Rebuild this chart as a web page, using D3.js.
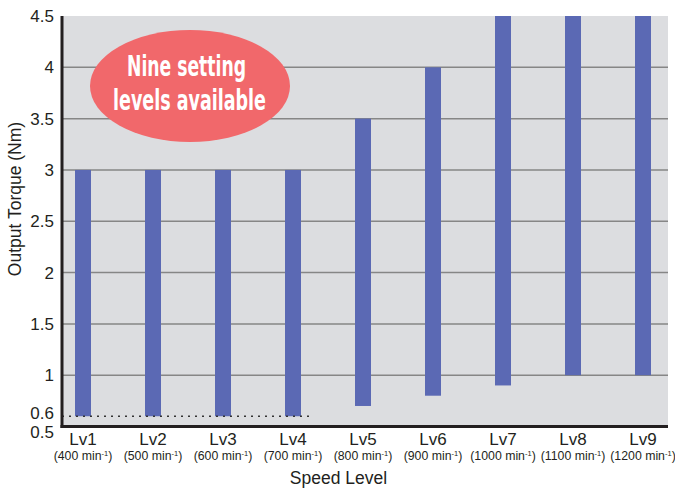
<!DOCTYPE html>
<html>
<head>
<meta charset="utf-8">
<script src="https://cdn.jsdelivr.net/npm/d3@7"></script>
<style>
  body { margin: 0; background: #fff; }
  svg { display: block; }
</style>
</head>
<body>
<svg id="chart" width="675" height="490"></svg>
<script>
// chart data
const levels = ["Lv1", "Lv2", "Lv3", "Lv4", "Lv5", "Lv6", "Lv7", "Lv8", "Lv9"];
const speeds = [400, 500, 600, 700, 800, 900, 1000, 1100, 1200];
const torqueMin = [0.6, 0.6, 0.6, 0.6, 0.7, 0.8, 0.9, 1.0, 1.0];
const torqueMax = [3, 3, 3, 3, 3.5, 4, 4.5, 4.5, 4.5];
const yTicks = [0.5, 0.6, 1, 1.5, 2, 2.5, 3, 3.5, 4, 4.5];
const gridValues = [1, 1.5, 2, 2.5, 3, 3.5, 4];
const minLine = 0.6;

const plotLeft = 62, plotRight = 668, plotTop = 16, plotBottom = 426.5;
const barWidth = 16;
const font = "'Liberation Sans', Arial, Helvetica, sans-serif";
const textColor = "#231f20";

const svg = d3.select("#chart");

const y = d3.scaleLinear().domain([0.5, 4.5]).range([plotBottom, plotTop]);
const x = d3.scalePoint().domain(levels).range([plotLeft + 21, plotRight - 25]);

// plot background
svg.append("rect")
    .attr("x", plotLeft)
    .attr("y", plotTop)
    .attr("width", plotRight - plotLeft)
    .attr("height", plotBottom - plotTop)
    .attr("fill", "#dcdde0");

// gridlines
svg.selectAll(".grid")
    .data(gridValues)
    .join("line")
    .attr("class", "grid")
    .attr("x1", plotLeft)
    .attr("x2", plotRight)
    .attr("y1", d => y(d))
    .attr("y2", d => y(d))
    .attr("stroke", "#868686")
    .attr("stroke-width", 1.5);

// bubble
const bubble = svg.append("g");
bubble.append("ellipse")
    .attr("cx", 190)
    .attr("cy", 86)
    .attr("rx", 100)
    .attr("ry", 56)
    .attr("fill", "#f1686b");

const bubbleFont = "'Liberation Sans Narrow', 'DejaVu Sans Condensed', sans-serif";
bubble.append("text")
    .attr("x", 186.5)
    .attr("y", 76)
    .attr("text-anchor", "middle")
    .attr("font-family", bubbleFont)
    .attr("font-weight", "bold")
    .attr("font-size", 29)
    .attr("textLength", 119)
    .attr("lengthAdjust", "spacingAndGlyphs")
    .attr("fill", "#fff")
    .text("Nine setting");
bubble.append("text")
    .attr("x", 189.5)
    .attr("y", 110)
    .attr("text-anchor", "middle")
    .attr("font-family", bubbleFont)
    .attr("font-weight", "bold")
    .attr("font-size", 29)
    .attr("textLength", 153)
    .attr("lengthAdjust", "spacingAndGlyphs")
    .attr("fill", "#fff")
    .text("levels available");

// bars (floating ranges)
svg.selectAll(".bar")
    .data(levels)
    .join("rect")
    .attr("class", "bar")
    .attr("x", d => x(d) - barWidth / 2)
    .attr("y", (d, i) => y(torqueMax[i]))
    .attr("width", barWidth)
    .attr("height", (d, i) => y(torqueMin[i]) - y(torqueMax[i]))
    .attr("fill", "#5b69b4");

// dotted minimum line
svg.append("line")
    .attr("x1", plotLeft)
    .attr("x2", x("Lv4") + 20)
    .attr("y1", y(minLine))
    .attr("y2", y(minLine))
    .attr("stroke", "#333")
    .attr("stroke-width", 1.5)
    .attr("stroke-dasharray", "2,5");

// axes lines
svg.append("line")
    .attr("x1", plotLeft).attr("x2", plotLeft)
    .attr("y1", plotTop).attr("y2", plotBottom + 1.5)
    .attr("stroke", textColor)
    .attr("stroke-width", 3);
svg.append("line")
    .attr("x1", plotLeft - 1.5).attr("x2", plotRight)
    .attr("y1", plotBottom).attr("y2", plotBottom)
    .attr("stroke", textColor)
    .attr("stroke-width", 3);

// y tick labels (0.5 / 0.6 nudged apart so they don't overlap)
const nudge = { 0.5: 5, 0.6: -3 };
svg.selectAll(".ytick")
    .data(yTicks)
    .join("text")
    .attr("class", "ytick")
    .attr("x", 54)
    .attr("y", d => y(d) + 6 + (nudge[d] || 0))
    .attr("text-anchor", "end")
    .attr("font-family", font)
    .attr("font-size", 17)
    .attr("fill", textColor)
    .text(d => d);

// x labels
svg.selectAll(".xlab")
    .data(levels)
    .join("text")
    .attr("class", "xlab")
    .attr("x", d => x(d))
    .attr("y", 445)
    .attr("text-anchor", "middle")
    .attr("font-family", font)
    .attr("font-size", 17)
    .attr("fill", textColor)
    .text(d => d);

const sub = svg.selectAll(".xsub")
    .data(levels)
    .join("text")
    .attr("class", "xsub")
    .attr("x", d => x(d))
    .attr("y", 460)
    .attr("text-anchor", "middle")
    .attr("font-family", font)
    .attr("font-size", 12.3)
    .attr("fill", textColor);
sub.append("tspan").text((d, i) => `(${speeds[i]} min`);
sub.append("tspan").attr("font-size", 7.5).attr("dy", -4.5).text("-1");
sub.append("tspan").attr("dy", 4.5).text(")");

// axis titles
svg.append("text")
    .attr("x", 338.5)
    .attr("y", 484)
    .attr("text-anchor", "middle")
    .attr("font-family", font)
    .attr("font-size", 17.5)
    .attr("fill", textColor)
    .text("Speed Level");

svg.append("text")
    .attr("transform", "translate(21,199) rotate(-90)")
    .attr("text-anchor", "middle")
    .attr("font-family", font)
    .attr("font-size", 17.5)
    .attr("fill", textColor)
    .text("Output Torque (Nm)");
</script>
</body>
</html>
